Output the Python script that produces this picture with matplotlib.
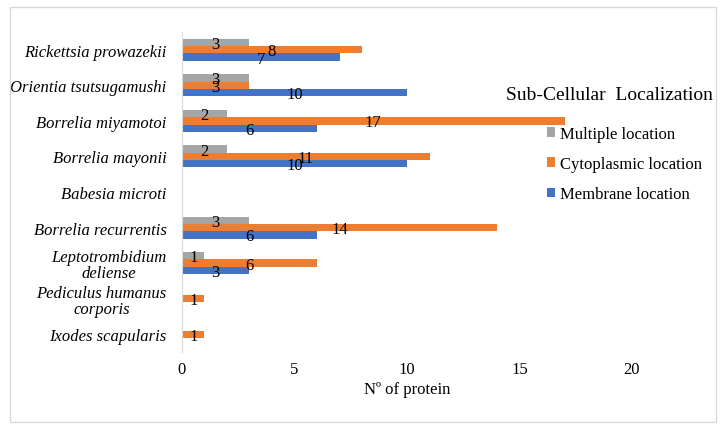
import matplotlib
matplotlib.use("Agg")
import matplotlib.pyplot as plt
from matplotlib.patches import Rectangle, Patch
import numpy as np

plt.rcParams['font.family'] = ['Liberation Serif', 'DejaVu Serif']

categories = ["Rickettsia prowazekii", "Orientia tsutsugamushi", "Borrelia miyamotoi",
              "Borrelia mayonii", "Babesia microti", "Borrelia recurrentis",
              "Leptotrombidium\ndeliense", "Pediculus humanus\ncorporis", "Ixodes scapularis"]
multiple = [3, 3, 2, 2, 0, 3, 1, 0, 0]
cytoplasmic = [8, 3, 17, 11, 0, 14, 6, 1, 1]
membrane = [7, 10, 6, 10, 0, 6, 3, 0, 0]
series_names = ["Multiple location", "Cytoplasmic location", "Membrane location"]
xticks = [0, 5, 10, 15, 20]

colors = ["#A5A5A5", "#ED7D31", "#4472C4"]

W, H = 725, 431
fig = plt.figure(figsize=(W / 100, H / 100), dpi=100)

# outer border
fig.patches.append(Rectangle((10 / W, 1 - 423 / H), 706 / W, 415 / H, transform=fig.transFigure,
                             fill=False, edgecolor="#D9D9D9", linewidth=1))

ax = fig.add_axes([182 / W, 1 - 353 / H, 450 / W, 320 / H])
n = len(categories)
y = np.arange(n)
h = 0.207
series = [multiple, cytoplasmic, membrane]
offsets = [-h, 0, h]
for vals, off, col, name in zip(series, offsets, colors, series_names):
    bars = ax.barh(y + off, vals, height=h, color=col, label=name)
    for b, v in zip(bars, vals):
        if v > 0:
            ax.text(v / 2, b.get_y() + b.get_height() / 2 + 0.04, str(v), ha='center', va='center',
                    fontsize=12, color='black')

ax.set_ylim(n - 0.5, -0.5)
ax.set_xlim(0, 20)
ax.set_xticks(xticks)
ax.set_yticks(y)
ax.set_yticklabels(categories, fontstyle='italic', fontsize=12, multialignment='center',
                   linespacing=1.0)
ax.tick_params(axis='x', length=0, pad=6.5, labelsize=12)
ax.tick_params(axis='y', length=0, pad=11)
for s in ['top', 'right', 'bottom']:
    ax.spines[s].set_visible(False)
ax.spines['left'].set_color("#D9D9D9")

fig.text(407 / W, 1 - 390 / H, "Nº of protein", ha='center', va='center', fontsize=12)

fig.text(609 / W, 1 - 95 / H, "Sub-Cellular  Localization", ha='center', va='center', fontsize=14)

handles = [Patch(facecolor=c, edgecolor='none') for c in colors]
fig.legend(handles, series_names, loc='center left', bbox_to_anchor=(547 / W, 1 - 165 / H),
           frameon=False, fontsize=12, handlelength=0.5, handleheight=0.5,
           handletextpad=0.3, labelspacing=0.86, borderpad=0, borderaxespad=0)

fig.savefig("out.png", dpi=100)
